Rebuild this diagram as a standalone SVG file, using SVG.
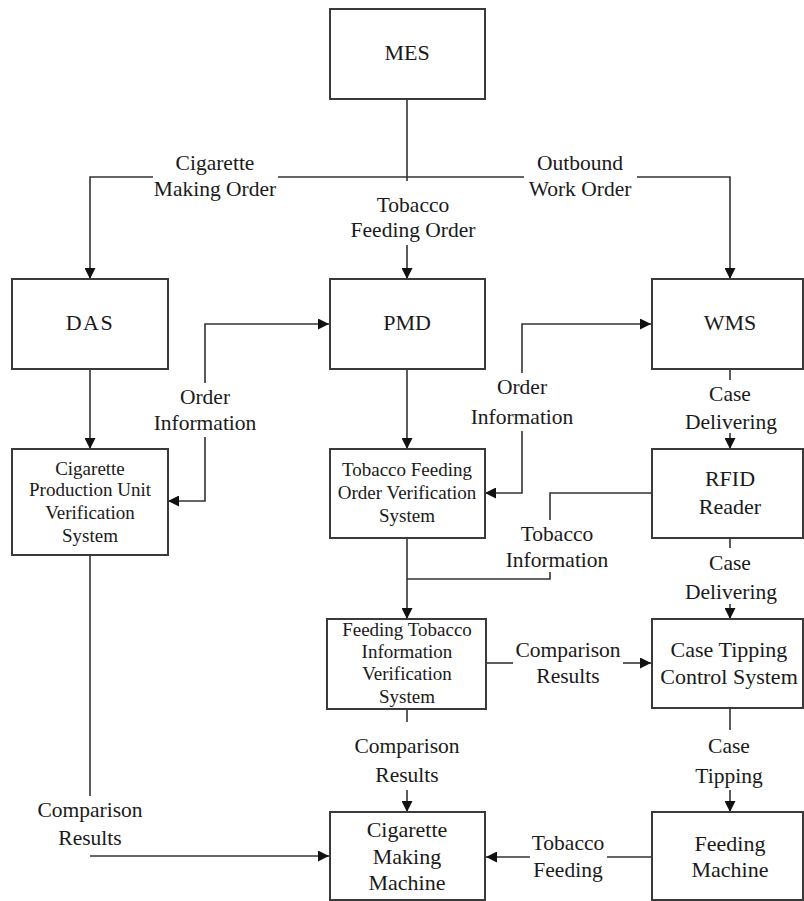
<svg xmlns="http://www.w3.org/2000/svg" width="804" height="901" viewBox="0 0 804 901">
<style>
.box{fill:#fff;stroke:#3a3a3a;stroke-width:2}
.ln{fill:none;stroke:#333;stroke-width:1.6}
text{font-family:"Liberation Serif","Times New Roman",serif;fill:#1a1a1a;text-anchor:middle}
.lb{font-size:21.5px}
.bt{font-size:22px}
.sm{font-size:19px}
</style>
<defs>
<marker id="ah" markerUnits="userSpaceOnUse" markerWidth="11" markerHeight="11" refX="11" refY="5.5" orient="auto">
<path d="M0,0 L11,5.5 L0,11 z" fill="#111"/>
</marker>
</defs>
<rect width="804" height="901" fill="#fff"/>
<g id="connectors">
<path class="ln" d="M407,98 V181"/>
<path class="ln" d="M407,245 V279" marker-end="url(#ah)"/>
<path class="ln" d="M153,177 H90 V279" marker-end="url(#ah)"/>
<path class="ln" d="M278,177 H524"/>
<path class="ln" d="M637,177 H730 V279" marker-end="url(#ah)"/>
<path class="ln" d="M90,369 V449" marker-end="url(#ah)"/>
<path class="ln" d="M205,383 V324 H329" marker-end="url(#ah)"/>
<path class="ln" d="M205,437 V501 H168" marker-end="url(#ah)"/>
<path class="ln" d="M407,369 V449" marker-end="url(#ah)"/>
<path class="ln" d="M522,373 V324 H651" marker-end="url(#ah)"/>
<path class="ln" d="M522,431 V493 H485" marker-end="url(#ah)"/>
<path class="ln" d="M730,369 V380"/>
<path class="ln" d="M730,433 V449" marker-end="url(#ah)"/>
<path class="ln" d="M652,493 H550 V520"/>
<path class="ln" d="M550,572 V579 H407"/>
<path class="ln" d="M407,538 V619" marker-end="url(#ah)"/>
<path class="ln" d="M730,538 V548"/>
<path class="ln" d="M730,604 V619" marker-end="url(#ah)"/>
<path class="ln" d="M486,663 H513"/>
<path class="ln" d="M623,663 H651" marker-end="url(#ah)"/>
<path class="ln" d="M730,708 V730"/>
<path class="ln" d="M730,790 V812" marker-end="url(#ah)"/>
<path class="ln" d="M652,857 H607"/>
<path class="ln" d="M530,857 H486" marker-end="url(#ah)"/>
<path class="ln" d="M407,709 V722"/>
<path class="ln" d="M407,790 V812" marker-end="url(#ah)"/>
<path class="ln" d="M90,555 V796"/>
<path class="ln" d="M90,856 H329" marker-end="url(#ah)"/>
</g>
<g id="labels" class="lb">
<text x="215" y="170">Cigarette</text>
<text x="215" y="196">Making Order</text>
<text x="580" y="170">Outbound</text>
<text x="580" y="196">Work Order</text>
<text x="413" y="212">Tobacco</text>
<text x="413" y="237">Feeding Order</text>
<text x="205" y="404">Order</text>
<text x="205" y="430">Information</text>
<text x="522" y="394">Order</text>
<text x="522" y="424">Information</text>
<text x="730" y="401">Case</text>
<text x="731" y="429">Delivering</text>
<text x="557" y="541">Tobacco</text>
<text x="557" y="567">Information</text>
<text x="730" y="570">Case</text>
<text x="731" y="599">Delivering</text>
<text x="568" y="657">Comparison</text>
<text x="568" y="683">Results</text>
<text x="729" y="753">Case</text>
<text x="729" y="783">Tipping</text>
<text x="407" y="753">Comparison</text>
<text x="407" y="782">Results</text>
<text x="568" y="850">Tobacco</text>
<text x="568" y="877">Feeding</text>
<text x="90" y="817">Comparison</text>
<text x="90" y="845">Results</text>
</g>
<g id="MES"><rect class="box" x="330" y="9" width="155" height="90"/><text class="bt" x="407" y="60">MES</text></g>
<g id="DAS"><rect class="box" x="12" y="279" width="156" height="90"/><text class="bt" x="90" y="330" letter-spacing="1.5">DAS</text></g>
<g id="PMD"><rect class="box" x="330" y="279" width="155" height="90"/><text class="bt" x="407" y="330">PMD</text></g>
<g id="WMS"><rect class="box" x="652" y="279" width="151" height="90"/><text class="bt" x="730" y="330">WMS</text></g>
<g id="CPUVS"><rect class="box" x="12" y="449" width="156" height="106"/>
<text class="sm" x="90" y="475">Cigarette</text><text class="sm" x="90" y="496">Production Unit</text><text class="sm" x="90" y="519">Verification</text><text class="sm" x="90" y="542">System</text></g>
<g id="TFOVS"><rect class="box" x="330" y="449" width="155" height="89"/>
<text class="sm" x="407" y="476">Tobacco Feeding</text><text class="sm" x="407" y="499">Order Verification</text><text class="sm" x="407" y="522">System</text></g>
<g id="RFID"><rect class="box" x="652" y="449" width="151" height="89"/>
<text class="bt" x="730" y="486">RFID</text><text class="bt" x="730" y="514">Reader</text></g>
<g id="FTIVS"><rect class="box" x="327" y="619" width="159" height="90"/>
<text class="sm" x="407" y="636">Feeding Tobacco</text><text class="sm" x="407" y="658">Information</text><text class="sm" x="407" y="680">Verification</text><text class="sm" x="407" y="703">System</text></g>
<g id="CaseTipping"><rect class="box" x="652" y="619" width="151" height="89"/>
<text class="bt" x="729" y="657">Case Tipping</text><text class="bt" x="729" y="684">Control System</text></g>
<g id="CMM"><rect class="box" x="330" y="812" width="155" height="88"/>
<text class="bt" x="407" y="837">Cigarette</text><text class="bt" x="407" y="864">Making</text><text class="bt" x="407" y="890">Machine</text></g>
<g id="FeedingMachine"><rect class="box" x="652" y="812" width="151" height="88"/>
<text class="bt" x="730" y="851">Feeding</text><text class="bt" x="730" y="877">Machine</text></g>
</svg>
